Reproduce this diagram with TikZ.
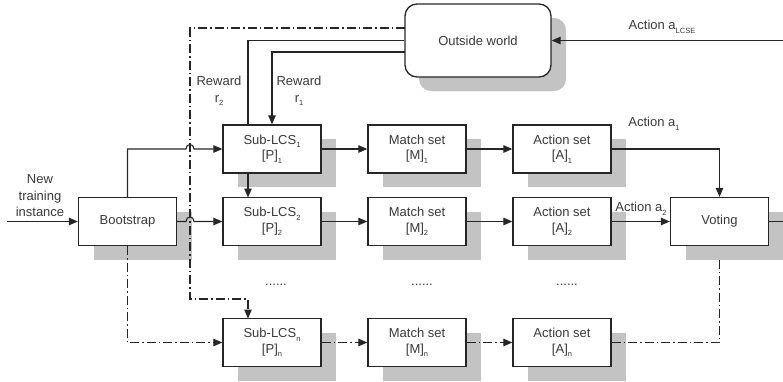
\documentclass[tikz,border=0pt]{standalone}
\usepackage{fontspec}
\setmainfont{Liberation Sans}
\usetikzlibrary{arrows.meta,shadows}
\definecolor{ln}{HTML}{262626}
\definecolor{tx}{HTML}{3A3A3A}
\definecolor{sh}{HTML}{C3C3C3}
\newcommand\sbs[1]{\raisebox{-0.55ex}{\fontsize{7.5}{7.5}\selectfont #1}}
\begin{document}
\begin{tikzpicture}[x=1pt,y=-1pt,
  txt/.style={text=tx, font=\fontsize{13}{16.5}\selectfont, align=center, inner sep=0pt},
  box/.style={txt, draw=ln, line width=1.3pt, fill=white, minimum width=98pt, minimum height=48pt,
    drop shadow={shadow xshift=15pt, shadow yshift=-14pt, fill=sh, opacity=1}},
  world/.style={box, rounded corners=12pt, minimum width=146pt, minimum height=73pt,
    drop shadow={shadow xshift=14pt, shadow yshift=-14pt, fill=sh, opacity=1}},
  con/.style={draw=ln, line width=1.1pt},
  arr/.style={con, -{Triangle[length=9pt,width=7.5pt]}},
  dd/.style={dash pattern=on 9pt off 3pt on 1.5pt off 3pt}]
\useasboundingbox (0,0) rectangle (783,381);

% nodes
\node[world] (ow) at (478,40.5) {Outside world};
\node[box] (boot) at (127.5,221.5) {Bootstrap};
\node[box] (s1) at (272,149) {Sub-LCS\sbs{1}\\[-1pt][P]\sbs{1}};
\node[box] (s2) at (272,221.5) {Sub-LCS\sbs{2}\\[-1pt][P]\sbs{2}};
\node[box] (sn) at (272,342.5) {Sub-LCS\sbs{n}\\[-1pt][P]\sbs{n}};
\node[box] (m1) at (417,149) {Match set\\[-1pt][M]\sbs{1}};
\node[box] (m2) at (417,221.5) {Match set\\[-1pt][M]\sbs{2}};
\node[box] (mn) at (417,342.5) {Match set\\[-1pt][M]\sbs{n}};
\node[box] (a1) at (562,149) {Action set\\[-1pt][A]\sbs{1}};
\node[box] (a2) at (562,221.5) {Action set\\[-1pt][A]\sbs{2}};
\node[box] (an) at (562,342.5) {Action set\\[-1pt][A]\sbs{n}};
\node[box] (vote) at (719.5,221.5) {Voting};

% labels
\node[txt] (lnew) at (40,196) {New\\training\\instance};
\node[txt] (lr2) at (219,91) {Reward\\r\sbs{2}};
\node[txt] (lr1) at (299,91) {Reward\\r\sbs{1}};
\node[txt] (la1) at (654,124) {Action a\sbs{1}};
\node[txt] (la2) at (641,209) {Action a\sbs{2}};
\node[txt] (lae) at (662,27) {Action a\sbs{LCSE}};
\node[txt] (d1) at (276,285) {......};
\node[txt] (d2) at (422,285) {......};
\node[txt] (d3) at (567,285) {......};

% coordinates
\coordinate (inL) at (7,221.5);
\coordinate (outR) at (783,221.5);
\coordinate (aeR) at (783,40.5);
\coordinate (vsh) at (719.5,260);

% connectors
\draw[arr] (inL) -- (boot.west);
\draw[arr] (boot.north) -- (127.5,149) -- (186,149) .. controls (186,143) and (194,143) .. (194,149) -- (s1.west);
\draw[arr] (boot.east) -- (186,221.5) .. controls (186,215.5) and (194,215.5) .. (194,221.5) -- (s2.west);
\draw[con] (ow.west) -- (248,40.5) -- (248,125);
\draw[arr] (405,52) -- (272,52) -- (s1.north);
\draw[arr] (248,173) -- (248,197.5);
\draw[arr,dd] (405,28) -- (190,28) -- (190,299) -- (248,299) -- (248,318.5);
\draw[arr,dd] (boot.south) -- (127.5,342.5) -- (sn.west);

\draw[arr] (s1) -- (m1);
\draw[arr] (m1) -- (a1);
\draw[arr] (s2) -- (m2);
\draw[arr] (m2) -- (a2);
\draw[arr,dd] (sn) -- (mn);
\draw[arr,dd] (mn) -- (an);
\draw[arr] (a1.east) -- (719.5,149) -- (vote.north);
\draw[arr] (a2) -- (vote);
\draw[con,dd] (an.east) -- (719.5,342.5) -- (vsh);
\draw[con] (vote.east) -- (outR);
\draw[arr] (aeR) -- (ow.east);
\end{tikzpicture}
\end{document}
